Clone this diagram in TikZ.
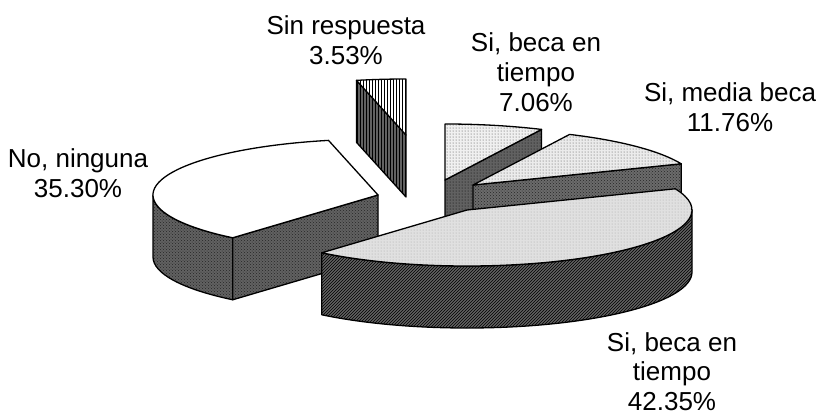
\documentclass[tikz,border=0pt]{standalone}
\usepackage{fontspec}
\setmainfont{Liberation Sans}
\usetikzlibrary{patterns,calc}
\newcommand\HH{62pt}
\newcommand\topface[4]{%
  \draw[#4] (#1) -- ($(#1)+(#2:225pt and 56pt)$) arc[start angle=#2, end angle=#3, x radius=225pt, y radius=56pt] -- cycle;}
\newcommand\radface[3]{%
  \draw[#3] (#1) -- ($(#1)+(#2:225pt and 56pt)$) -- ++(0,-\HH) -- ($(#1)+(0,-\HH)$) -- cycle;}
\newcommand\rimface[4]{%
  \draw[#4] ($(#1)+(#2:225pt and 56pt)$) arc[start angle=#2, end angle=#3, x radius=225pt, y radius=56pt] -- ++(0,-\HH) arc[start angle=#3, end angle=#2, x radius=225pt, y radius=56pt] -- cycle;}
\begin{document}
\begin{tikzpicture}[x=1pt, y=1pt, line width=1.3pt, line join=round,
  lab/.style={font=\fontsize{26}{30}\selectfont, align=center, inner sep=0pt, anchor=north},
  topN/.style={fill=white},
  sideN/.style={preaction={fill=black!62}, pattern=crosshatch dots, pattern color=black!85},
  topB/.style={preaction={fill=black!12}, pattern=dots, pattern color=black!35},
  sideB/.style={preaction={fill=black!62}, pattern=north east lines, pattern color=black},
  topM/.style={preaction={fill=black!8}, pattern=dots, pattern color=black!70},
  sideM/.style={preaction={fill=black!58}, pattern=crosshatch dots, pattern color=black!85},
  topT/.style={preaction={fill=black!6}, pattern=dots, pattern color=black!75},
  sideT/.style={preaction={fill=black!62}, pattern=dots, pattern color=black},
  topS/.style={preaction={fill=white}, pattern=vertical lines, pattern color=black},
  sideS/.style={preaction={fill=black!62}, pattern=vertical lines, pattern color=black}]
\path[use as bounding box] (0,0) rectangle (818,416);

\coordinate (S) at (406,281);
\coordinate (T) at (445,236);
\coordinate (M) at (473,231);
\coordinate (N) at (378,221);
\coordinate (B) at (467,206);

% Sin respuesta
\radface{S}{102.71}{sideS}
\topface{S}{90}{102.71}{topS}
% Si, beca en tiempo 7.06
\radface{T}{64.58}{sideT}
\topface{T}{64.58}{90}{topT}
% Si, media beca
\radface{M}{22.25}{sideM}
\topface{M}{22.25}{64.58}{topM}
% No, ninguna
\rimface{N}{180}{229.79}{sideN}
\radface{N}{229.79}{sideN}
\topface{N}{102.71}{229.79}{topN}
% Si, beca en tiempo 42.35
\rimface{B}{-130.21}{0}{sideB}
\topface{B}{-130.21}{22.25}{topB}

\node[lab] (lS) at (346,401) {Sin respuesta\\3.53\%};
\node[lab] (lN) at (78,268) {No, ninguna\\35.30\%};
\node[lab] (lT) at (536,384) {Si, beca en\\tiempo\\7.06\%};
\node[lab] (lM) at (730,334) {Si, media beca\\11.76\%};
\node[lab, font=\fontsize{26}{29.5}\selectfont] (lB) at (672,84) {Si, beca en\\tiempo\\42.35\%};
\end{tikzpicture}
\end{document}
